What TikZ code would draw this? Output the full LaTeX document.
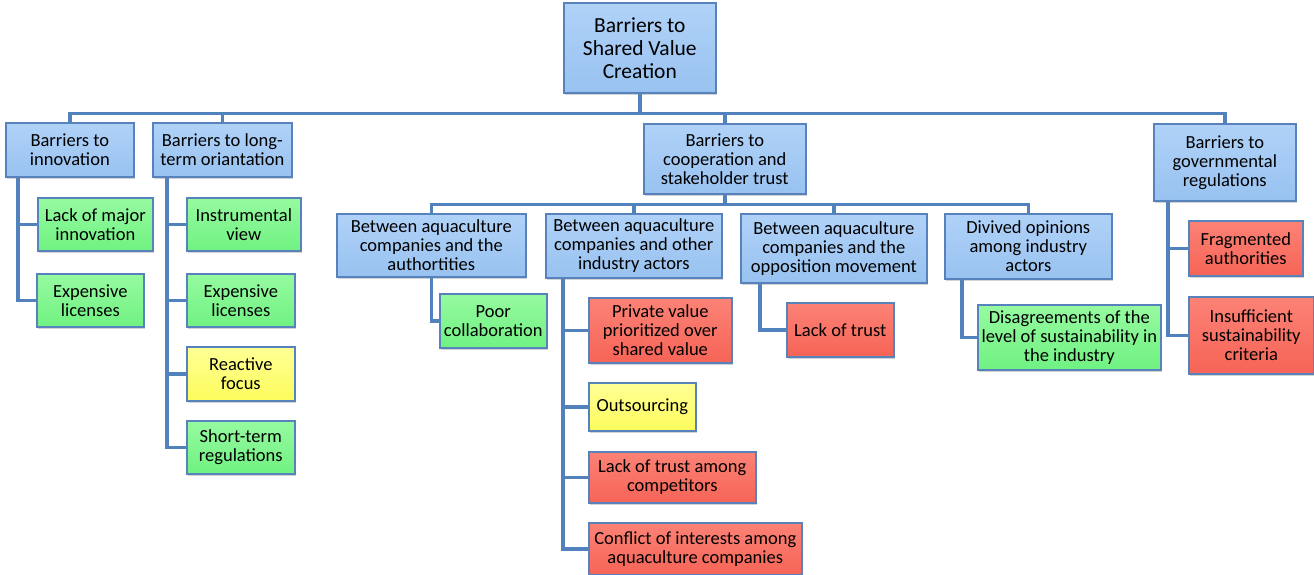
\documentclass[tikz,border=0pt]{standalone}
\usepackage{fontspec}
\setmainfont{Carlito}
\usetikzlibrary{shadows,backgrounds}

\definecolor{edgeblue}{RGB}{88,130,188}
\definecolor{lineblue}{RGB}{82,130,190}
\definecolor{blueA}{RGB}{176,210,248}
\definecolor{blueB}{RGB}{152,194,240}
\definecolor{greenA}{RGB}{150,250,160}
\definecolor{greenB}{RGB}{112,242,130}
\definecolor{yellowA}{RGB}{255,255,150}
\definecolor{yellowB}{RGB}{252,252,92}
\definecolor{redA}{RGB}{252,130,118}
\definecolor{redB}{RGB}{246,100,86}

\begin{document}
\begin{tikzpicture}[x=1pt, y=-1pt, box/.style={rectangle, draw=edgeblue, line width=1.6pt, anchor=north west, align=center, inner sep=2pt, font=\fontsize{18.5}{19}\selectfont, drop shadow={shadow xshift=1.5pt, shadow yshift=-2pt, opacity=.35}}, bluebox/.style={box, top color=blueA, bottom color=blueB}, greenbox/.style={box, top color=greenA, bottom color=greenB}, yellowbox/.style={box, top color=yellowA, bottom color=yellowB}, redbox/.style={box, top color=redA, bottom color=redB}, wire/.style={draw=lineblue, line width=3.5pt}]
  \useasboundingbox (0,0) rectangle (1314,575);

  \node[bluebox, font=\fontsize{21.5}{23}\selectfont, minimum width=152pt, minimum height=90pt] (root) at (563,2) {Barriers to\\Shared Value\\Creation};

  % first level
  \node[bluebox, minimum width=128pt, minimum height=54pt] (innov) at (5,122) {Barriers to\\innovation};
  \node[bluebox, minimum width=139pt, minimum height=54pt] (longterm) at (152,122) {Barriers to long-\\term oriantation};
  \node[bluebox, minimum width=162pt, minimum height=70pt] (coop) at (643,123) {Barriers to\\cooperation and\\stakeholder trust};
  \node[bluebox, minimum width=142pt, minimum height=77pt] (gov) at (1153,123) {Barriers to\\governmental\\regulations};

  \node[greenbox, minimum width=115pt, minimum height=53pt] (lackmaj) at (37,197) {Lack of major\\innovation};
  \node[greenbox, minimum width=107pt, minimum height=53pt] (explic1) at (36,273) {Expensive\\licenses};

  \node[greenbox, minimum width=114pt, minimum height=53pt] (instr) at (186,197) {Instrumental\\view};
  \node[greenbox, minimum width=108pt, minimum height=53pt] (explic2) at (186,273) {Expensive\\licenses};
  \node[yellowbox, minimum width=108pt, minimum height=54pt] (reactive) at (186,346) {Reactive\\focus};
  \node[greenbox, minimum width=108pt, minimum height=53pt] (shortterm) at (186,420) {Short-term\\regulations};

  % second level under cooperation
  \node[bluebox, minimum width=189pt, minimum height=63pt] (auth) at (336,213) {Between aquaculture\\companies and the\\authortities};
  \node[bluebox, minimum width=176pt, minimum height=64pt] (other) at (545,213) {Between aquaculture\\companies and other\\industry actors};
  \node[bluebox, minimum width=186pt, minimum height=69pt] (oppo) at (740,213) {Between aquaculture\\companies and the\\opposition movement};
  \node[bluebox, minimum width=167pt, minimum height=65pt] (divid) at (944,213) {Divived opinions\\among industry\\actors};

  \node[greenbox, minimum width=107pt, minimum height=54pt] (poor) at (439,293) {Poor\\collaboration};

  \node[redbox, minimum width=143pt, minimum height=65pt] (private) at (588,297) {Private value\\prioritized over\\shared value};
  \node[yellowbox, minimum width=107pt, minimum height=48pt] (outsrc) at (588,382) {Outsourcing};
  \node[redbox, minimum width=167pt, minimum height=51pt] (lackcomp) at (588,451) {Lack of trust among\\competitors};
  \node[redbox, minimum width=213pt, minimum height=52pt] (conflict) at (588,522) {Conflict of interests among\\aquaculture companies};

  \node[redbox, minimum width=107pt, minimum height=54pt] (lacktrust) at (786,302) {Lack of trust};

  \node[greenbox, minimum width=183pt, minimum height=65pt] (disagree) at (977,304) {Disagreements of the\\level of sustainability in\\the industry};

  \node[redbox, minimum width=114pt, minimum height=55pt] (frag) at (1188,220) {Fragmented\\authorities};
  \node[redbox, minimum width=125pt, minimum height=77pt] (insuff) at (1188,296) {Insufficient\\sustainability\\criteria};

  \begin{scope}[on background layer]
    \draw[wire] (root.south) -- ++(0,20) -| (innov.north);
    \draw[wire] (root.south) -- ++(0,20) -| (longterm.north);
    \draw[wire] (root.south) -- ++(0,20) -| (coop.north);
    \draw[wire] (root.south) -- ++(0,20) -| (gov.north);

    \draw[wire] ([xshift=13pt]innov.south west) |- (lackmaj.west);
    \draw[wire] ([xshift=13pt]innov.south west) |- (explic1.west);

    \draw[wire] ([xshift=15pt]longterm.south west) |- (instr.west);
    \draw[wire] ([xshift=15pt]longterm.south west) |- (explic2.west);
    \draw[wire] ([xshift=15pt]longterm.south west) |- (reactive.west);
    \draw[wire] ([xshift=15pt]longterm.south west) |- (shortterm.west);

    \draw[wire] (coop.south) -- ++(0,10) -| (auth.north);
    \draw[wire] (coop.south) -- ++(0,10) -| (other.north);
    \draw[wire] (coop.south) -- ++(0,10) -| (oppo.north);
    \draw[wire] (coop.south) -- ++(0,10) -| (divid.north);

    \draw[wire] (auth.south) |- (poor.west);

    \draw[wire] ([xshift=18pt]other.south west) |- (private.west);
    \draw[wire] ([xshift=18pt]other.south west) |- (outsrc.west);
    \draw[wire] ([xshift=18pt]other.south west) |- (lackcomp.west);
    \draw[wire] ([xshift=18pt]other.south west) |- (conflict.west);

    \draw[wire] ([xshift=20pt]oppo.south west) |- (lacktrust.west);

    \draw[wire] ([xshift=18pt]divid.south west) |- (disagree.west);

    \draw[wire] ([xshift=15pt]gov.south west) |- (frag.west);
    \draw[wire] ([xshift=15pt]gov.south west) |- (insuff.west);
  \end{scope}
\end{tikzpicture}
\end{document}
